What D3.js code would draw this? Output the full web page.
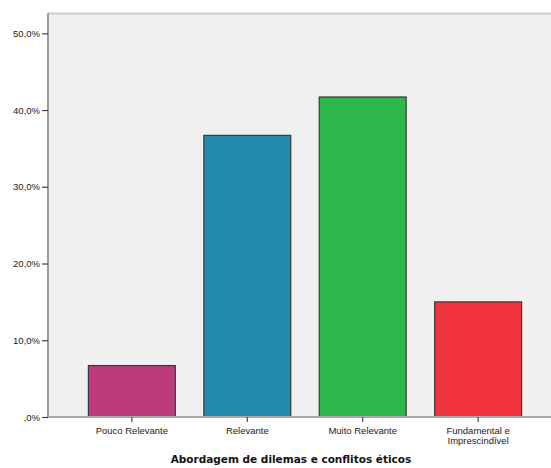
<!DOCTYPE html>
<html><head><meta charset="utf-8">
<script src="https://cdn.jsdelivr.net/npm/d3@7"></script>
<style>body{margin:0;background:#fff}svg{display:block}</style>
</head><body>
<svg id="c" width="551" height="468"></svg>
<script>
const categories = ["Pouco Relevante", "Relevante", "Muito Relevante", "Fundamental e\nImprescindível"];
const values = [6.7, 36.7, 41.7, 15.0];
const colors = ["#BE3B7B", "#258BAD", "#2EB84B", "#F0323D"];
const yTicks = [0, 10, 20, 30, 40, 50];
const yTickLabels = [",0%", "10,0%", "20,0%", "30,0%", "40,0%", "50,0%"];
const title = "Abordagem de dilemas e conflitos éticos";

(function() {
const svg = d3.select("#c");
const mLeft = 48, mTop = 13, mBottom = 417, mRight = 562;
const x = d3.scaleBand().domain(categories).range([mLeft, mRight]).paddingInner(0.247).paddingOuter(0.35);
const y = d3.scaleLinear().domain([0, 50]).range([mBottom, 33.3]);

svg.append("rect").attr("x", mLeft).attr("y", mTop).attr("width", 551 - mLeft).attr("height", mBottom - mTop).attr("fill", "#F0F0F0");
svg.append("line").attr("x1", mLeft).attr("x2", 551).attr("y1", mTop + 0.5).attr("y2", mTop + 0.5).attr("stroke", "#CCCCCC").attr("stroke-width", 2);

svg.selectAll("rect.bar").data(values).join("rect").attr("class", "bar")
  .attr("x", (d, i) => x(categories[i]))
  .attr("y", d => y(d))
  .attr("width", x.bandwidth())
  .attr("height", d => mBottom - y(d))
  .attr("fill", (d, i) => colors[i])
  .attr("stroke", "#3a3a3a").attr("stroke-width", 1.2);

const yAxis = d3.axisLeft(y).tickValues(yTicks).tickFormat((d, i) => yTickLabels[i]).tickSize(6).tickPadding(2);
const ga = svg.append("g").attr("transform", `translate(${mLeft},0)`).call(yAxis);
ga.select(".domain").attr("stroke", "#9a9a9a").attr("stroke-width", 2).attr("d", `M0,${mTop}V${mBottom}`);
ga.selectAll(".tick line").attr("stroke", "#444").attr("stroke-width", 1.2);
ga.selectAll(".tick text").attr("font-family", "Liberation Sans, Arial, sans-serif").attr("font-size", 9.5).attr("fill", "#222");

const xAxis = d3.axisBottom(x).tickSize(5).tickFormat("");
const gx = svg.append("g").attr("transform", `translate(0,${mBottom})`).call(xAxis);
gx.select(".domain").attr("stroke", "#AAAAAA").attr("stroke-width", 2).attr("d", `M${mLeft},0H551`);
gx.selectAll(".tick line").attr("stroke", "#444").attr("stroke-width", 1.2);
gx.selectAll(".tick").each(function(d) {
  const lines = d.split("\n");
  const t = d3.select(this).append("text").attr("fill", "#222")
    .attr("font-family", "Liberation Sans, Arial, sans-serif").attr("font-size", 9.5)
    .attr("text-anchor", "middle");
  lines.forEach((l, i) => t.append("tspan").attr("x", 0).attr("y", 16.5 + i * 10).text(l));
});

svg.append("text").attr("x", 291).attr("y", 463).attr("text-anchor", "middle")
  .attr("font-family", "DejaVu Sans, Verdana, sans-serif").attr("font-weight", "bold").attr("font-size", 10.5)
  .attr("fill", "#111").text(title);
})();
</script>
</body></html>
